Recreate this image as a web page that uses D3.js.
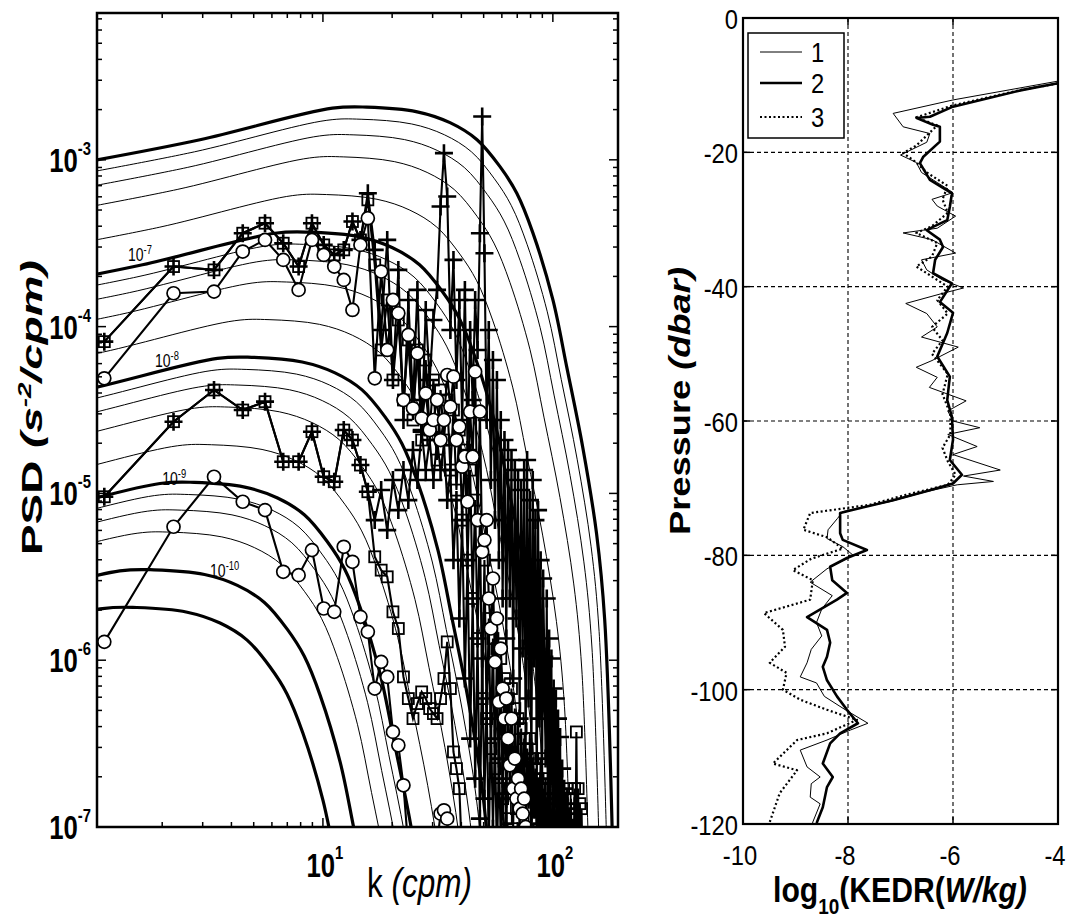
<!DOCTYPE html>
<html>
<head>
<meta charset="utf-8">
<title>Shear spectra and KEDR profiles</title>
<script src="https://cdn.jsdelivr.net/npm/d3@7/dist/d3.min.js"></script>
<style>
  body { margin: 0; background: #fff; }
  svg text { font-family: "Liberation Sans", Arial, Helvetica, sans-serif; fill: #000; }
</style>
</head>
<body>
<svg id="chart" width="1069" height="922"></svg>
<script>
//----------------------------------------------------------------
// Left panel data
//----------------------------------------------------------------

// reference model spectrum (top thick curve, eps = 1e-6)
var refEps = 1e-6;
var refK   = [1.04, 2.92, 11.0, 15.5, 25.7, 35.7, 46.8, 58.9, 69.7, 81.8, 100, 115, 135, 155, 168, 181];
var refPsd = [1.0e-3, 1.32e-3, 2.04e-3, 2.07e-3, 1.94e-3, 1.67e-3, 1.32e-3, 9.1e-4, 6.3e-4,
              3.66e-4, 1.45e-4, 5.7e-5, 1.88e-5, 5.7e-6, 1.76e-6, 1.0e-7];

// dissipation rates of the model curves (W/kg)
var thickEps = [1e-6, 1e-7, 1e-8, 1e-9, 2e-10, 1e-10];
var thinEps  = [8e-7, 6e-7, 4e-7, 2e-7, 8e-8, 6e-8, 4e-8, 2e-8,
                8e-9, 6e-9, 4e-9, 2e-9, 8e-10, 6e-10, 4e-10];

// curve labels: exponent text and anchor (k, psd)
var epsLabelExp = ["-7", "-8", "-9", "-10"];
var epsLabelK   = [1.42, 1.86, 2.0, 3.23];
var epsLabelPsd = [2.48e-4, 5.75e-5, 1.13e-5, 3.14e-6];

// wavenumber grid of the measured spectra (cpm)
var kGrid = [
  1.12, 2.24, 3.36, 4.48, 5.60, 6.72, 7.84, 8.96, 10.08, 11.20,
  12.32, 13.44, 14.56, 15.68, 16.80, 17.92, 19.04, 20.16, 21.28, 22.40,
  23.52, 24.64, 25.76, 26.88, 28.00, 29.12, 30.24, 31.36, 32.48, 33.60,
  34.72, 35.84, 36.96, 38.08, 39.20, 40.32, 41.44, 42.56, 43.68, 44.80,
  45.92, 47.04, 48.16, 49.28, 50.40, 51.52, 52.64, 53.76, 54.88, 56.00,
  57.12, 58.24, 59.36, 60.48, 61.60, 62.72, 63.84, 64.96, 66.08, 67.20,
  68.32, 69.44, 70.56, 71.68, 72.80, 73.92, 75.04, 76.16, 77.28, 78.40,
  79.52, 80.64, 81.76, 82.88, 84.00, 85.12, 86.24, 87.36, 88.48, 89.60,
  90.72, 91.84, 92.96, 94.08, 95.20, 96.32, 97.44, 98.56, 99.68, 100.80,
  101.92, 103.04, 104.16, 105.28, 106.40, 107.52, 108.64, 109.76, 110.88, 112.00,
  113.12, 114.24, 115.36, 116.48, 117.60, 118.72, 119.84, 120.96, 122.08, 123.20,
  124.32, 125.44, 126.56, 127.68, 128.80, 129.92, 131.04, 132.16, 133.28, 134.40,
  135.52];

// measured spectra, log10 PSD on kGrid
var plusA = [-4.09, -3.64, -3.66, -3.44, -3.38, -3.50, -3.64, -3.38, -3.51, -3.57,
  -3.54, -3.37, -3.48, -3.20, -3.54, -4.02, -3.48, -4.32, -3.66, -4.56,
  -3.84, -4.44, -3.78, -4.62, -3.90, -4.32, -3.96, -3.78, -3.28, -2.96,
  -3.22, -4.02, -3.60, -4.32, -3.84, -4.56, -3.78, -4.74, -4.02, -4.44,
  -3.84, -4.14, -3.44, -2.74, -3.56, -4.56, -4.02, -4.92, -4.20, -5.16,
  -4.32, -5.40, -4.56, -5.63, -4.68, -5.87, -4.74, -5.63, -4.80, -6.11,
  -4.86, -5.75, -4.92, -6.35, -4.98, -5.93, -4.86, -6.59, -4.80, -6.23,
  -5.04, -6.71, -4.92, -5.99, -5.16, -6.83, -5.10, -6.35, -5.40, -7.01,
  -5.51, -5.98, -6.59, -5.63, -7.07, -5.87, -6.71, -5.99, -7.13, -6.17,
  -6.83, -6.23, -7.19, -6.35, -6.95, -6.46, -7.25, -6.65, -7.19, -6.77,
  -7.31, -6.89, -7.25, -7.01, -7.37, -7.13, -7.43];

var sqA = [-4.09, -3.64, -3.66, -3.44, -3.38, -3.50, -3.64, -3.38, -3.51, -3.57,
  -3.54, -3.37, -3.48, -3.24, -3.63, -4.14, -3.84, -4.32, -3.96, -4.44,
  -4.08, -4.56, -4.14, -4.68, -4.20, -4.62, -4.32, -4.80, -4.38, -4.68,
  -4.44, -4.86, -4.50, -4.98, -4.62, -5.16, -4.74, -5.40, -4.86, -5.63,
  -5.04, -5.87, -5.16, -6.23, -5.40, -6.35, -5.75, -6.53, -5.87, -6.65,
  -5.93, -6.77, -5.99, -6.83, -6.11, -6.95, -6.23, -6.77, -6.17, -7.01,
  -6.29, -6.89, -6.35, -7.07, -6.41, -6.83, -6.47, -7.13, -6.53, -6.89,
  -6.47, -7.19, -6.59, -6.95, -6.65, -7.13, -6.71, -7.01, -6.59, -7.19,
  -6.77, -7.07, -6.71, -7.25, -6.83, -7.13, -6.77, -7.19, -6.89, -7.07,
  -6.83, -7.25, -6.95, -7.13, -6.89, -7.19, -6.83, -7.07, -6.95, -7.25,
  -6.83, -7.13, -6.77, -7.19, -6.89, -7.07, -6.83, -7.25, -6.95, -7.13,
  -6.77, -7.19, -6.43, -7.07, -6.77, -7.19, -6.86, -7.25, -6.89, -7.19,
  -7.43];

var circA = [-4.31, -3.80, -3.79, -3.55, -3.48, -3.60, -3.78, -3.48, -3.57, -3.64,
  -3.72, -3.90, -3.51, -3.35, -4.31, -3.67, -4.14, -3.84, -3.92, -4.44,
  -4.05, -4.49, -4.16, -4.55, -4.40, -4.62, -4.56, -4.44, -4.68, -4.56,
  -4.29, -4.48, -4.30, -4.68, -4.60, -4.84, -4.78, -5.05, -4.51, -4.78,
  -4.27, -5.16, -4.51, -5.35, -5.28, -5.16, -5.63, -5.81, -5.51, -6.01,
  -5.75, -6.25, -5.93, -6.17, -6.35, -6.23, -6.47, -6.63, -6.35, -6.77,
  -6.59, -6.83, -6.71, -6.89, -6.77, -6.92, -6.83, -7.00, -7.13];

var plusB = [-5.02, -4.57, -4.38, -4.50, -4.45, -4.81, -4.81, -4.63, -4.90, -4.93,
  -4.62, -4.68, -4.83, -4.99, -5.16, -4.98, -5.22, -4.92, -5.10, -4.86,
  -5.04, -4.74, -4.92, -4.63, -4.86, -4.68, -4.92, -4.68, -4.86, -4.71,
  -5.04, -4.86, -5.40, -5.04, -5.75, -5.16, -6.11, -5.40, -6.47, -5.63,
  -6.71, -5.87, -6.95, -5.99, -6.83, -6.23, -7.13, -6.35, -7.01, -6.47,
  -7.19, -6.59, -7.07, -6.71, -7.25, -6.83, -7.31];

var sqB = [-5.02, -4.57, -4.38, -4.50, -4.45, -4.81, -4.81, -4.63, -4.90, -4.93,
  -4.62, -4.68, -4.83, -4.99, -5.38, -5.46, -5.50, -5.71, -5.81, -6.10,
  -6.23, -6.35, -6.26, -6.19, -6.23, -6.29, -6.32, -6.35, -6.23, -6.11,
  -5.89, -6.17, -6.55, -6.65, -6.77, -7.19];

var circC = [-5.89, -5.20, -4.90, -5.05, -5.10, -5.47, -5.49, -5.34, -5.69, -5.71,
  -5.32, -5.41, -5.74, -5.83, -6.17, -6.01, -6.10, -6.43, -6.51, -6.75,
  -7.13, -7.40, -7.30, -7.50, -7.40, -7.30, -7.20, -7.10, -6.92, -6.90,
  -6.95, -7.30, -7.50];

//----------------------------------------------------------------
// Right panel data: pressure (dbar) and log10 KEDR (W/kg)
//----------------------------------------------------------------
var pres1 = [-8.8, -9.4, -12.2, -14.2, -16.2, -17.2, -18.5, -20.4, -21.5, -23.0,
  -24.5, -26.0, -27.0, -28.0, -29.5, -31.3, -32.0, -33.0, -35.0, -36.0,
  -37.5, -39.0, -40.2, -41.0, -42.5, -44.0, -46.0, -47.5, -49.0, -51.0,
  -52.0, -53.5, -55.0, -57.0, -58.5, -60.0, -61.0, -62.0, -63.8, -65.0,
  -67.3, -68.2, -69.0, -69.5, -70.5, -72.0, -73.5, -74.5, -76.2, -77.5,
  -78.7, -80.0, -82.0, -84.0, -86.0, -88.0, -90.0, -92.0, -94.0, -96.0,
  -98.1, -99.0, -101.0, -103.0, -105.0, -106.0, -107.5, -109.0, -111.5, -113.0,
  -114.0, -116.0, -117.0, -119.7, -121.0];
var kedr1 = [-3.6, -4.0, -6.0, -7.14, -6.95, -6.44, -6.5, -7.0, -6.7, -6.6,
  -6.3, -6.0, -6.4, -6.3, -5.95, -6.3, -6.95, -6.4, -5.95, -6.6,
  -6.5, -6.2, -5.8, -6.2, -6.9, -6.5, -6.3, -6.6, -5.9, -6.4,
  -6.7, -6.3, -6.45, -5.75, -6.1, -6.0, -5.49, -6.1, -5.54, -6.0,
  -5.1, -5.8, -5.23, -5.92, -6.5, -7.2, -8.1, -8.2, -8.38, -8.4,
  -8.1, -7.9, -8.4, -8.72, -8.3, -8.5, -8.6, -8.5, -8.7, -8.78,
  -8.91, -8.6, -8.45, -8.05, -7.62, -7.95, -8.4, -8.91, -8.78, -8.53,
  -8.7, -8.72, -8.53, -8.67, -8.7];

var pres2 = [-9.0, -9.7, -10.7, -13.2, -14.7, -14.9, -15.9, -16.2, -18.4, -20.7,
  -21.6, -24.1, -26.1, -28.1, -30.1, -31.1, -31.6, -33.0, -34.1, -36.0,
  -38.0, -39.5, -42.3, -43.9, -46.9, -50.4, -53.4, -56.9, -59.4, -62.8,
  -65.8, -68.0, -69.3, -70.3, -71.8, -73.2, -73.7, -76.7, -77.7, -79.2,
  -80.4, -81.7, -83.7, -85.6, -86.6, -89.2, -91.1, -93.0, -95.1, -96.6,
  -98.6, -101.0, -103.0, -105.0, -106.5, -108.0, -111.0, -113.0, -114.5, -117.5,
  -119.7, -121.0];
var kedr2 = [-3.6, -4.0, -4.67, -6.0, -6.44, -6.69, -6.38, -6.25, -6.25, -6.57,
  -6.63, -6.44, -6.02, -6.06, -6.11, -6.38, -6.50, -6.25, -6.19, -6.34,
  -6.38, -6.02, -6.25, -6.0, -6.11, -6.30, -6.06, -6.11, -6.02, -6.0,
  -6.06, -5.83, -6.0, -6.44, -7.14, -7.9, -8.15, -8.15, -8.1, -7.64,
  -8.02, -8.34, -8.3, -8.02, -8.21, -8.78, -8.4, -8.34, -8.4, -8.48,
  -8.4, -8.21, -8.02, -7.81, -8.15, -8.34, -8.48, -8.29, -8.4, -8.48,
  -8.59, -8.62];

var pres3 = [-9.0, -9.6, -10.7, -13.0, -14.8, -16.0, -17.5, -19.0, -20.1, -21.5,
  -23.0, -25.0, -27.0, -29.0, -31.0, -32.0, -33.5, -35.5, -37.0, -38.5,
  -40.0, -42.0, -44.0, -46.0, -48.0, -50.0, -53.0, -56.0, -59.0, -62.0,
  -64.0, -66.0, -68.0, -69.5, -71.0, -72.5, -73.7, -76.2, -77.3, -79.0,
  -80.5, -82.2, -83.7, -86.6, -88.6, -91.1, -93.6, -96.0, -97.5, -100.0,
  -101.5, -103.0, -104.5, -106.5, -107.5, -111.0, -112.0, -115.4, -119.7, -121.0];
var kedr3 = [-3.5, -3.9, -4.7, -6.0, -6.7, -6.3, -6.5, -6.7, -6.95, -6.7,
  -6.5, -6.1, -6.2, -6.1, -6.4, -6.7, -6.3, -6.4, -6.7, -6.4,
  -6.1, -6.3, -6.1, -6.4, -6.2, -6.4, -6.1, -6.2, -6.05, -6.05,
  -6.2, -6.1, -5.95, -6.1, -6.9, -7.6, -8.72, -8.85, -8.4, -8.1,
  -8.7, -9.05, -8.67, -8.72, -9.6, -9.24, -9.2, -9.49, -9.17, -9.24,
  -8.91, -8.4, -7.83, -8.4, -8.97, -9.43, -8.97, -9.3, -9.49, -9.55];

var legendNames = ["1", "2", "3"];

//----------------------------------------------------------------
var svg = d3.select("#chart");
var defs = svg.append("defs");

function isPow10(t) {
  var l = Math.log10(t);
  return Math.abs(l - Math.round(l)) < 1e-6;
}

// narrow helvetica-like tick labels
function squeezedText(parent, x, y, anchor, size, weight, sx) {
  var g = parent.append("g").attr("transform", "translate(" + x + "," + y + ") scale(" + sx + ",1)");
  return g.append("text").attr("text-anchor", anchor).attr("font-size", size).attr("font-weight", weight);
}

// axis titles stretched to the length they take in the figure
function axisTitle(parts, x, y, len, size, weight, rotated) {
  var g = svg.append("g");
  var t = g.append("text").attr("font-size", size).attr("font-weight", weight);
  parts.forEach(function (p) {
    var s = t.append("tspan").text(p.text);
    if (p.italic) s.attr("font-style", "italic");
    if (p.size) s.attr("font-size", p.size);
    if (p.dy) s.attr("dy", p.dy);
  });
  var sx = len / t.node().getBBox().width;
  g.attr("transform", rotated
    ? "translate(" + x + "," + y + ") rotate(-90) scale(" + sx + ",0.8)"
    : "translate(" + x + "," + y + ") scale(" + sx + ",1)");
}

///////////////////////////////
// Left panel
///////////////////////////////
var L = {x0: 97, x1: 618, y0: 13, y1: 827};
var xL = d3.scaleLog().domain([1.041, 192]).range([L.x0, L.x1]);
var yL = d3.scaleLog().domain([1e-7, 7.59e-3]).range([L.y1, L.y0]);

defs.append("clipPath").attr("id", "clipL").append("rect")
  .attr("x", L.x0).attr("y", L.y0).attr("width", L.x1 - L.x0).attr("height", L.y1 - L.y0);
var gL = svg.append("g").attr("clip-path", "url(#clipL)");

// model spectra: the reference curve slid along the log-log axes
// (k scales as eps^1/4, psd as eps^3/4)
var modelLine = d3.line().curve(d3.curveCatmullRom.alpha(0.5));
function modelPoints(eps) {
  var r = eps / refEps, s = Math.pow(r, 0.25), a = Math.pow(r, 0.75);
  return refK.map(function (k, i) { return [xL(k * s), yL(refPsd[i] * a)]; });
}
thinEps.forEach(function (e) {
  gL.append("path").attr("d", modelLine(modelPoints(e)))
    .attr("fill", "none").attr("stroke", "#000").attr("stroke-width", 1);
});
thickEps.forEach(function (e) {
  gL.append("path").attr("d", modelLine(modelPoints(e)))
    .attr("fill", "none").attr("stroke", "#000").attr("stroke-width", 3.2);
});

// epsilon labels on the curves
epsLabelExp.forEach(function (ex, i) {
  var t = squeezedText(svg, xL(epsLabelK[i]), yL(epsLabelPsd[i]), "start", 18, "normal", 0.78);
  t.append("tspan").text("10");
  t.append("tspan").attr("font-size", 12).attr("dy", -7).text(ex);
});

// measured spectra
var dataLine = d3.line();
function drawSpectrum(vals, marker) {
  var pts = vals.map(function (v, i) { return [xL(kGrid[i]), yL(Math.pow(10, v))]; });
  var g = gL.append("g");
  g.append("path").attr("d", dataLine(pts))
    .attr("fill", "none").attr("stroke", "#000").attr("stroke-width", 2.1);
  var m = g.selectAll(null).data(pts).enter();
  if (marker == "o") {
    m.append("circle").attr("cx", function (d) { return d[0]; }).attr("cy", function (d) { return d[1]; })
      .attr("r", 6.5).attr("fill", "#fff").attr("stroke", "#000").attr("stroke-width", 1.7);
  } else if (marker == "s") {
    m.append("rect").attr("x", function (d) { return d[0] - 5.5; }).attr("y", function (d) { return d[1] - 5.5; })
      .attr("width", 11).attr("height", 11)
      .attr("fill", "none").attr("stroke", "#000").attr("stroke-width", 1.8);
  } else {
    m.append("path").attr("d", function (d) {
        return "M" + (d[0] - 9) + "," + d[1] + "H" + (d[0] + 9) + "M" + d[0] + "," + (d[1] - 9) + "V" + (d[1] + 9);
      })
      .attr("stroke", "#000").attr("stroke-width", 2.6);
  }
}
drawSpectrum(sqA, "s");
drawSpectrum(plusA, "+");
drawSpectrum(sqB, "s");
drawSpectrum(plusB, "+");
drawSpectrum(circA, "o");
drawSpectrum(circC, "o");

// ticks on all four sides
var gAxL = svg.append("g").attr("stroke", "#000").attr("stroke-width", 1.5);
xL.ticks().forEach(function (t) {
  var x = xL(t), len = isPow10(t) ? 9 : 5;
  gAxL.append("line").attr("x1", x).attr("x2", x).attr("y1", L.y1).attr("y2", L.y1 - len);
  gAxL.append("line").attr("x1", x).attr("x2", x).attr("y1", L.y0).attr("y2", L.y0 + len);
});
yL.ticks().forEach(function (t) {
  var y = yL(t), len = isPow10(t) ? 9 : 5;
  gAxL.append("line").attr("x1", L.x0).attr("x2", L.x0 + len).attr("y1", y).attr("y2", y);
  gAxL.append("line").attr("x1", L.x1).attr("x2", L.x1 - len).attr("y1", y).attr("y2", y);
});
svg.append("rect").attr("x", L.x0).attr("y", L.y0).attr("width", L.x1 - L.x0).attr("height", L.y1 - L.y0)
  .attr("fill", "none").attr("stroke", "#000").attr("stroke-width", 2.5);

// tick labels (powers of ten)
yL.ticks().filter(isPow10).forEach(function (t) {
  var t1 = squeezedText(svg, 91, yL(t) + 12, "end", 33, "bold", 0.78);
  t1.append("tspan").text("10");
  t1.append("tspan").attr("font-size", 19).attr("dy", -17).text(String(Math.round(Math.log10(t))));
});
xL.ticks().filter(isPow10).forEach(function (t) {
  var t1 = squeezedText(svg, xL(t) + 2, 877, "middle", 33, "bold", 0.78);
  t1.append("tspan").text("10");
  t1.append("tspan").attr("font-size", 19).attr("dy", -18).text(String(Math.round(Math.log10(t))));
});

axisTitle([{text: "PSD "}, {text: "(s", italic: true}, {text: "-2", italic: true, size: 22, dy: -14},
           {text: "/cpm)", italic: true, dy: 14}], 42, 555, 295, 36, "bold", true);
axisTitle([{text: "k "}, {text: "(cpm)", italic: true}], 367, 897, 105, 40, "normal", false);

///////////////////////////////
// Right panel
///////////////////////////////
var R = {x0: 743, x1: 1058, y0: 18, y1: 824};
var xR = d3.scaleLinear().domain([-10, -4]).range([R.x0, R.x1]);
var yR = d3.scaleLinear().domain([-120, 0]).range([R.y1, R.y0]);

defs.append("clipPath").attr("id", "clipR").append("rect")
  .attr("x", R.x0).attr("y", R.y0).attr("width", R.x1 - R.x0).attr("height", R.y1 - R.y0);

// dashed grid
var gGrid = svg.append("g").attr("stroke", "#000").attr("stroke-width", 1.1).attr("stroke-dasharray", "4,3");
xR.ticks(3).forEach(function (t) {
  if (t > -10 && t < -4) gGrid.append("line").attr("x1", xR(t)).attr("x2", xR(t)).attr("y1", R.y0).attr("y2", R.y1);
});
yR.ticks(6).forEach(function (t) {
  if (t > -120 && t < 0) gGrid.append("line").attr("x1", R.x0).attr("x2", R.x1).attr("y1", yR(t)).attr("y2", yR(t));
});

// profiles
var gR = svg.append("g").attr("clip-path", "url(#clipR)");
var profLine = d3.line();
function drawProfile(pres, kedr, width, dash) {
  var pts = pres.map(function (p, i) { return [xR(kedr[i]), yR(p)]; });
  var p = gR.append("path").attr("d", profLine(pts))
    .attr("fill", "none").attr("stroke", "#000").attr("stroke-width", width).attr("stroke-linejoin", "round");
  if (dash) p.attr("stroke-dasharray", dash);
}
drawProfile(pres1, kedr1, 1, null);
drawProfile(pres3, kedr3, 2.2, "2,2.5");
drawProfile(pres2, kedr2, 2.6, null);

// ticks
var gAxR = svg.append("g").attr("stroke", "#000").attr("stroke-width", 1.5);
xR.ticks(3).forEach(function (t) {
  gAxR.append("line").attr("x1", xR(t)).attr("x2", xR(t)).attr("y1", R.y1).attr("y2", R.y1 - 7);
  gAxR.append("line").attr("x1", xR(t)).attr("x2", xR(t)).attr("y1", R.y0).attr("y2", R.y0 + 7);
});
yR.ticks(6).forEach(function (t) {
  gAxR.append("line").attr("x1", R.x0).attr("x2", R.x0 + 7).attr("y1", yR(t)).attr("y2", yR(t));
  gAxR.append("line").attr("x1", R.x1).attr("x2", R.x1 - 7).attr("y1", yR(t)).attr("y2", yR(t));
});
svg.append("rect").attr("x", R.x0).attr("y", R.y0).attr("width", R.x1 - R.x0).attr("height", R.y1 - R.y0)
  .attr("fill", "none").attr("stroke", "#000").attr("stroke-width", 2.2);

xR.ticks(3).forEach(function (t) {
  squeezedText(svg, xR(t) - 3, R.y1 + 41, "middle", 27, "normal", 0.88).text(String(t));
});
yR.ticks(6).forEach(function (t) {
  squeezedText(svg, R.x0 - 5, yR(t) + 11, "end", 27, "normal", 0.88).text(String(t));
});

// legend
var gLeg = svg.append("g");
gLeg.append("rect").attr("x", 748).attr("y", 33).attr("width", 96).attr("height", 105)
  .attr("fill", "#fff").attr("stroke", "#000").attr("stroke-width", 1.5);
var legWidth = [1, 2.6, 2.2], legDash = [null, null, "2,2.5"], legY = [52, 83, 117];
legendNames.forEach(function (n, i) {
  var l = gLeg.append("line").attr("x1", 760).attr("x2", 802).attr("y1", legY[i]).attr("y2", legY[i])
    .attr("stroke", "#000").attr("stroke-width", legWidth[i]);
  if (legDash[i]) l.attr("stroke-dasharray", legDash[i]);
  squeezedText(gLeg, 811, legY[i] + 10, "start", 27, "normal", 0.88).text(n);
});

axisTitle([{text: "Pressure "}, {text: "(dbar)", italic: true}], 690, 535, 268, 36, "bold", true);
axisTitle([{text: "log"}, {text: "10", size: 22, dy: 12}, {text: "(KEDR(", dy: -12},
           {text: "W/kg", italic: true}, {text: ")", italic: true}], 773, 902, 254, 35, "bold", false);
</script>
</body>
</html>
